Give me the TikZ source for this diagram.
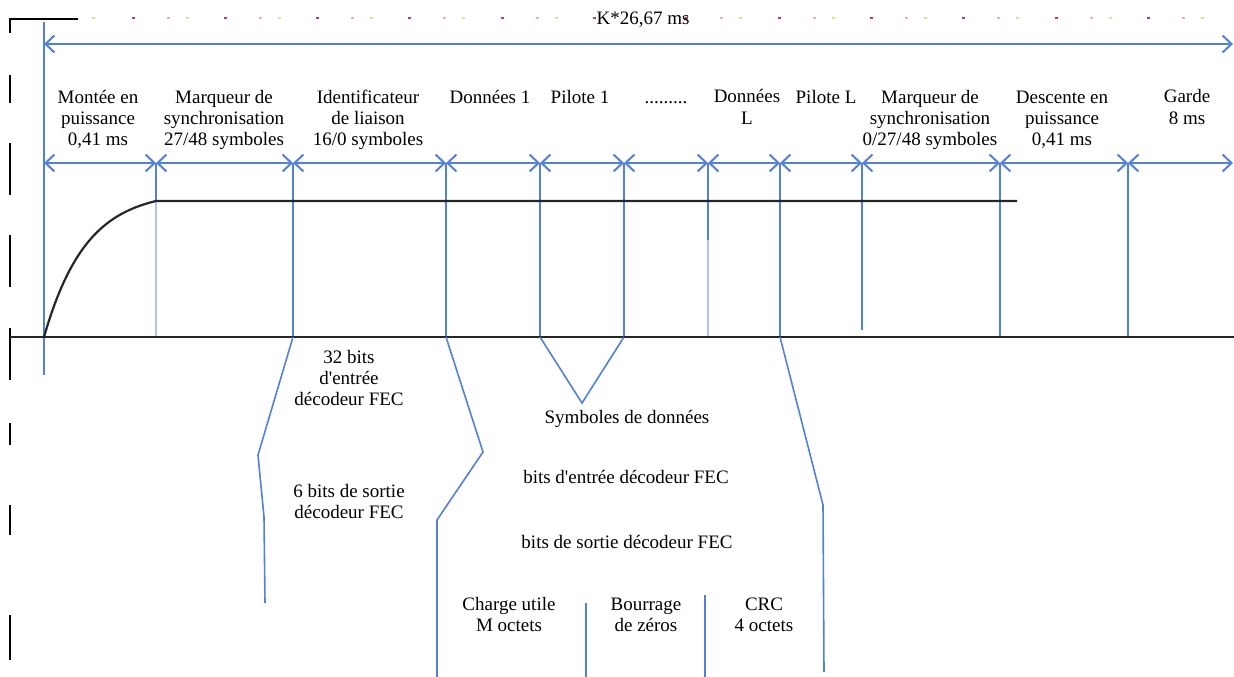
\documentclass[tikz,border=0pt]{standalone}
\usepackage{fontspec}
\setmainfont{Liberation Serif}
\usetikzlibrary{arrows.meta}
\definecolor{lineblue}{RGB}{82,128,218}
\definecolor{paleblue}{RGB}{176,198,240}
\definecolor{dotred}{RGB}{205,45,115}
\definecolor{dotpink}{RGB}{245,170,190}
\definecolor{dotyellow}{RGB}{225,225,140}
\newcommand{\apos}{\textquotesingle}
\begin{document}
\begin{tikzpicture}[x=1pt,y=-1pt,
  lbl/.style={align=center,inner sep=0pt,anchor=base,font=\fontsize{19}{21}\selectfont},
  bound/.style={draw=lineblue,line width=2pt},
  faint/.style={draw=paleblue,line width=2pt},
  dim/.style={draw=lineblue,line width=2pt,
    {Straight Barb[length=9pt,width=17pt]}-{Straight Barb[length=9pt,width=17pt]}},
  trace/.style={draw=black!85,line width=2.2pt},
  link/.style={draw=lineblue,line width=1.6pt},
  frame/.style={draw=black,line width=1.6pt}]
\useasboundingbox (0,0) rectangle (1234,677);

% frame corner and dashed left edge
\coordinate (c0) at (10,19);
\coordinate (c1) at (78,19);
\coordinate (c2) at (10,33);
\draw[frame] (c1) -- (c0) -- (c2);
\foreach \a/\b in {75/103,143/195,235/287,328/380,423/445,505/535,615/660}
  \draw[frame] (10,\a) -- (10,\b);

% dotted time line along the top
\fill[dotyellow] (91.5,17.5) rectangle ++(3,2);
\foreach \k in {0,...,11} {
  \fill[dotred] ({133+92.3*\k-1.5},17.5) rectangle ++(3,2);
  \ifnum\k=5\else
    \fill[dotpink] ({168+92.3*\k-1.5},17.5) rectangle ++(3,2);
    \fill[dotyellow] ({187+92.3*\k-1.5},17.5) rectangle ++(3,2);
  \fi
}
\node[lbl] (ktot) at (643,25) {K*26,67 ms};

% overall duration
\coordinate (k0) at (44,44);
\coordinate (k1) at (1233,44);
\draw[dim] (k0) -- (k1);

% segment boundaries
\foreach \n/\x in {0/44,1/156,2/293,3/446,4/540,5/624,6/708,7/780,8/862,9/1000,10/1128} {
  \coordinate (t\n) at (\x,163);
  \coordinate (g\n) at (\x,337);
}
\coordinate (t11) at (1233,163);
\coordinate (top0) at (44,22);
\coordinate (foot0) at (44,375);
\coordinate (h1) at (156,202);
\coordinate (h6) at (708,240);

\draw[bound] (top0) -- (foot0);
\draw[bound] (t1) -- (h1);
\draw[faint] (h1) -- (g1);
\foreach \n in {2,3,4,5,7,9,10} \draw[bound] (t\n) -- (g\n);
\draw[bound] (t6) -- (h6);
\draw[faint] (h6) -- (g6);
\draw[bound] (t8) -- (862,330);

\foreach \a/\b in {0/1,1/2,2/3,3/4,4/5,5/6,6/7,7/8,8/9,9/10,10/11}
  \draw[dim] (t\a) -- (t\b);

% power envelope
\coordinate (base0) at (10,337);
\coordinate (base1) at (1234,337);
\coordinate (flat1) at (1017,201);
\draw[trace] (base0) -- (base1);
\draw[trace] plot[domain=44:156,samples=60,smooth]
  (\x,{201+136*(exp(-(\x-44)/42)-exp(-112/42))/(1-exp(-112/42))}) -- (flat1);

% segment labels (anchored on the last line)
\node[lbl] (n0) at (98,145) {Montée en\\puissance\\0,41 ms};
\node[lbl] (n1) at (224,145) {Marqueur de\\synchronisation\\27/48 symboles};
\node[lbl] (n2) at (368,145) {Identificateur\\de liaison\\16/0 symboles};
\node[lbl] (n3) at (490,103) {Données 1};
\node[lbl] (n4) at (580,103) {Pilote 1};
\node[lbl] (n5) at (666,103) {.........};
\node[lbl] (n6) at (747,124) {Données\\L};
\node[lbl] (n7) at (826,103) {Pilote L};
\node[lbl] (n8) at (930,145) {Marqueur de\\synchronisation\\0/27/48 symboles};
\node[lbl] (n9) at (1062,145) {Descente en\\puissance\\0,41 ms};
\node[lbl] (n10) at (1187,124) {Garde\\8 ms};

% expansion of the link identifier
\coordinate (a1) at (258,455);
\coordinate (a2) at (264,517);
\coordinate (a3) at (265,603);
\draw[link] (g2) -- (a1) -- (a2) -- (a3);
\node[lbl] (l1) at (349,405) {32 bits\\d\apos entrée\\décodeur FEC};
\node[lbl] (l2) at (349,518) {6 bits de sortie\\décodeur FEC};

% expansion of the data block
\coordinate (d1) at (483,452);
\coordinate (d2) at (437,520);
\coordinate (d3) at (437,677);
\draw[link] (g3) -- (d1) -- (d2) -- (d3);
\coordinate (v1) at (582,403);
\draw[link] (g4) -- (v1) -- (g5);
\coordinate (e1) at (823,505);
\coordinate (e2) at (824,672);
\draw[link] (g7) -- (e1) -- (e2);

\node[lbl] (s1) at (627,423) {Symboles de données};
\node[lbl] (s2) at (626,483) {bits d\apos entrée décodeur FEC};
\node[lbl] (s3) at (627,548) {bits de sortie décodeur FEC};

% payload fields
\coordinate (p1) at (586,603);
\coordinate (p2) at (586,677);
\coordinate (q1) at (705,595);
\coordinate (q2) at (705,677);
\draw[link] (p1) -- (p2);
\draw[link] (q1) -- (q2);
\node[lbl] (f1) at (509,631) {Charge utile\\M octets};
\node[lbl] (f2) at (646,631) {Bourrage\\de zéros};
\node[lbl] (f3) at (764,631) {CRC\\4 octets};
\end{tikzpicture}
\end{document}
